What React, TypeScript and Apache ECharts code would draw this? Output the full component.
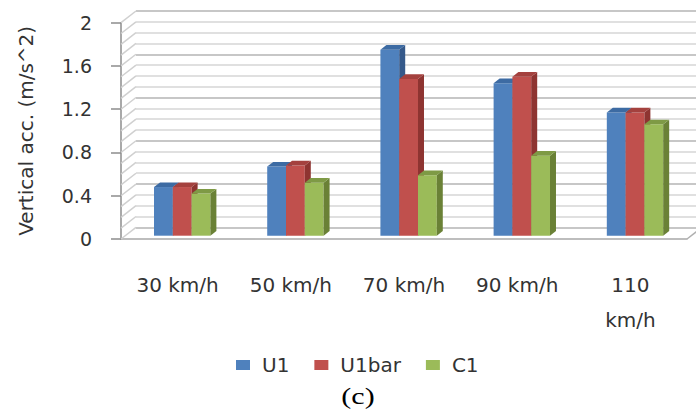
import React, { useEffect, useRef } from "react";
import * as echarts from "echarts";

const CATEGORIES = ["30 km/h", "50 km/h", "70 km/h", "90 km/h", "110 km/h"];
const SERIES_NAMES = ["U1", "U1bar", "C1"];
const U1 = [0.45, 0.64, 1.72, 1.41, 1.14];
const U1BAR = [0.45, 0.65, 1.45, 1.47, 1.14];
const C1 = [0.39, 0.49, 0.56, 0.74, 1.03];
const Y_MIN = 0;
const Y_MAX = 2;
const Y_STEP = 0.4;
const WALL_LEVELS = [0, 0.1, 0.2, 0.3, 0.4, 0.5, 0.6, 0.7, 0.8, 0.9, 1.0, 1.1, 1.2, 1.3, 1.4, 1.5, 1.6, 1.7, 1.8, 1.9, 2.0];

const FRONT = ["#4F81BD", "#C0504D", "#9BBB59"];
const SIDE = ["#35598A", "#8E3431", "#6A8136"];
const TOP = ["#3D6BA3", "#A4413E", "#7E9A45"];

// wall depth offset and bar placement in depth
const DX = 15;
const DY = -11.7;
const BAR_SHIFT_X = 4.6;
const BAR_SHIFT_Y = -3.3;
const BDX = 6;
const BDY = -4.6;

const FONT = "DejaVu Sans";

export default function App() {
  const ref = useRef<HTMLDivElement>(null);

  useEffect(() => {
    if (!ref.current) return;
    const chart = echarts.init(ref.current, null, { renderer: "svg" });

    const values = [U1, U1BAR, C1];

    const barSeries = values.map((arr, s) => ({
      type: "custom",
      name: SERIES_NAMES[s],
      xAxisIndex: 0,
      yAxisIndex: 0,
      z: 5,
      itemStyle: { color: FRONT[s] },
      encode: { x: 0, y: 1 },
      data: arr.map((v, i) => [i, v]),
      renderItem: (params: any, api: any) => {
        const ci = api.value(0);
        const v = api.value(1);
        const base = api.coord([ci, 0]);
        const top = api.coord([ci, v]);
        const band = api.size([1, 0])[0];
        const bw = band * 0.166;
        const x0 = base[0] - 1.5 * bw + s * bw + BAR_SHIFT_X;
        const yb = base[1] + BAR_SHIFT_Y;
        const yt = top[1] + BAR_SHIFT_Y;
        const x1 = x0 + bw;
        return {
          type: "group",
          children: [
            {
              type: "rect",
              shape: { x: x0, y: yt, width: bw, height: yb - yt },
              style: { fill: FRONT[s] },
            },
            {
              type: "polygon",
              shape: {
                points: [
                  [x1, yt],
                  [x1 + BDX, yt + BDY],
                  [x1 + BDX, yb + BDY],
                  [x1, yb],
                ],
              },
              style: { fill: SIDE[s] },
            },
            {
              type: "polygon",
              shape: {
                points: [
                  [x0, yt],
                  [x0 + BDX, yt + BDY],
                  [x1 + BDX, yt + BDY],
                  [x1, yt],
                ],
              },
              style: { fill: TOP[s] },
            },
          ],
        };
      },
    }));

    const wallSeries = {
      type: "custom",
      name: "wall",
      xAxisIndex: 0,
      yAxisIndex: 0,
      z: 1,
      silent: true,
      encode: { x: 0, y: 1 },
      data: WALL_LEVELS.map((v) => [0, v]),
      renderItem: (params: any, api: any) => {
        const v = api.value(1);
        const cs = params.coordSys;
        const y = api.coord([0, v])[1];
        const children: any[] = [
          {
            type: "line",
            shape: { x1: cs.x, y1: y, x2: cs.x + DX, y2: y + DY },
            style: { stroke: "#d0d0d0", lineWidth: 1.5 },
          },
        ];
        if (v === 0) {
          children.push({
            type: "line",
            shape: {
              x1: cs.x + cs.width,
              y1: y,
              x2: cs.x + cs.width + DX,
              y2: y + DY,
            },
            style: { stroke: "#b0b0b0", lineWidth: 1.5 },
          });
        }
        return { type: "group", children };
      },
    };

    chart.setOption({
      animation: false,
      backgroundColor: "#ffffff",
      grid: [
        { left: 121, right: 9, top: 22.7, bottom: 176 },
        { left: 136, right: -6, top: 11, bottom: 187.7 },
      ],
      xAxis: [
        {
          type: "category",
          gridIndex: 0,
          data: CATEGORIES,
          boundaryGap: true,
          axisLine: { show: true, lineStyle: { color: "#a8a8a8", width: 1.5 } },
          axisTick: { show: false },
          axisLabel: {
            interval: 0,
            margin: 28,
            fontFamily: FONT,
            fontSize: 20,
            color: "#333333",
            lineHeight: 35,
            formatter: (v: string) => (v.length > 7 ? v.replace(" ", "\n") : v),
          },
          splitLine: { show: false },
        },
        {
          type: "category",
          gridIndex: 1,
          data: CATEGORIES,
          show: false,
        },
      ],
      yAxis: [
        {
          type: "value",
          gridIndex: 0,
          min: Y_MIN,
          max: Y_MAX,
          interval: Y_STEP,
          name: "Vertical acc. (m/s^2)",
          nameLocation: "middle",
          nameGap: 85,
          nameRotate: 90,
          nameTextStyle: { fontFamily: FONT, fontSize: 20, color: "#333333" },
          axisLine: { show: true, lineStyle: { color: "#8c8c8c", width: 1.5 } },
          axisTick: { show: true, length: 10, lineStyle: { color: "#8c8c8c", width: 1.5 } },
          axisLabel: {
            margin: 29,
            fontFamily: FONT,
            fontSize: 19,
            color: "#333333",
            formatter: (v: number) => String(parseFloat(v.toFixed(1))),
          },
          splitLine: { show: false },
        },
        {
          type: "value",
          gridIndex: 1,
          min: Y_MIN,
          max: Y_MAX,
          interval: Y_STEP,
          axisLine: { show: false },
          axisTick: { show: false },
          axisLabel: { show: false },
          splitLine: { show: true, lineStyle: { color: "#b4b4b4", width: 1.5 } },
          minorTick: { show: false, splitNumber: 4 },
          minorSplitLine: { show: true, lineStyle: { color: "#d6d6d6", width: 1.5 } },
        },
      ],
      legend: {
        data: SERIES_NAMES,
        left: 231,
        top: 350,
        icon: "rect",
        itemWidth: 14,
        itemHeight: 10,
        itemGap: 25,
        textStyle: {
          fontFamily: FONT,
          fontSize: 20,
          color: "#333333",
          padding: [0, 0, 0, 7],
        },
      },
      graphic: [
        {
          type: "text",
          x: 358,
          y: 396,
          scaleX: 1.25,
          style: {
            text: "(c)",
            font: '24px "Liberation Serif"',
            fill: "#000000",
            align: "center",
            verticalAlign: "middle",
          },
        },
      ],
      series: [wallSeries, ...barSeries],
    });

    return () => chart.dispose();
  }, []);

  return (
    <div
      ref={ref}
      style={{ position: "fixed", left: 0, top: 0, width: 696, height: 415 }}
    />
  );
}
